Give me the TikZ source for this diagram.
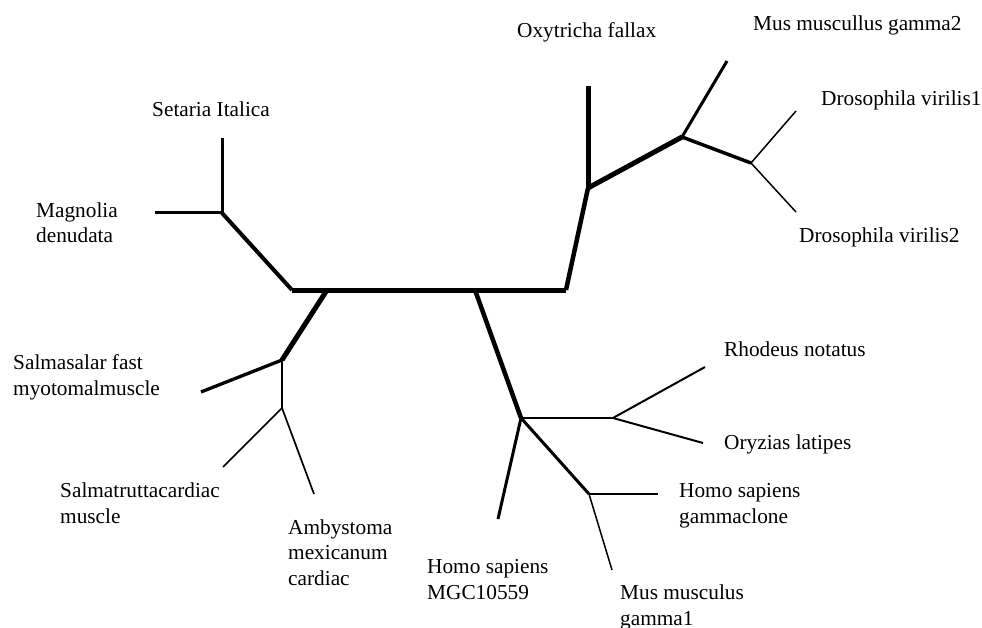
\documentclass[tikz,border=0pt]{standalone}
\usepackage{fontspec}
\setmainfont{Liberation Serif}
\begin{document}
\begin{tikzpicture}[x=1pt, y=-1pt,
  trunk/.style={line width=5pt},
  thickbr/.style={line width=4pt},
  midbr/.style={line width=3pt},
  thinbr/.style={line width=2pt},
  twig/.style={line width=1.5pt},
  leaf/.style={anchor=base west, inner sep=0pt, align=left,
    font=\fontsize{21.3}{25.5}\selectfont}]
\useasboundingbox (0,0) rectangle (982,628);
\coordinate (Lend) at (292,290);
\coordinate (Rend) at (566,290);
\coordinate (Sfork) at (327,290);
\coordinate (Hfork) at (475,290);
\coordinate (MSjn) at (222,213);
\coordinate (Setip) at (222,138);
\coordinate (Matip) at (155,213);
\coordinate (OXjn) at (588,188);
\coordinate (OXtip) at (588,86);
\coordinate (MGjn) at (682,137);
\coordinate (MGtip) at (727,61);
\coordinate (DVjn) at (751,163);
\coordinate (DVtipA) at (796,111);
\coordinate (DVtipB) at (796,212);
\coordinate (SAjn) at (282,360);
\coordinate (SAtip) at (201,392);
\coordinate (STjn) at (282,408);
\coordinate (STtip) at (223,467);
\coordinate (AMtip) at (314,494);
\coordinate (HSjn) at (521,418);
\coordinate (HMtip) at (498,519);
\coordinate (ROjn) at (613,418);
\coordinate (RHtip) at (705,367);
\coordinate (ORtip) at (703,443);
\coordinate (HGjn) at (589,494);
\coordinate (HGtip) at (658,494);
\coordinate (MMtip) at (612,570);
\draw[trunk] (Lend) -- (Rend);
\draw[thickbr] (MSjn) -- (Lend);
\draw[midbr] (MSjn) -- (Setip);
\draw[midbr] (MSjn) -- (Matip);
\draw[thickbr, line width=4.5pt] (Rend) -- (OXjn);
\draw[trunk] (OXjn) -- (OXtip);
\draw[trunk] (OXjn) -- (MGjn);
\draw[midbr] (MGjn) -- (MGtip);
\draw[midbr, line width=3.5pt] (MGjn) -- (DVjn);
\draw[twig] (DVjn) -- (DVtipA);
\draw[twig] (DVjn) -- (DVtipB);
\draw[trunk] (Sfork) -- (SAjn);
\draw[midbr, line width=3.3pt] (SAjn) -- (SAtip);
\draw[midbr, line width=2.7pt] (SAjn) -- (STjn);
\draw[twig, line width=1.7pt] (STjn) -- (STtip);
\draw[twig, line width=1.7pt] (STjn) -- (AMtip);
\draw[thickbr, line width=4.5pt] (Hfork) -- (HSjn);
\draw[midbr] (HSjn) -- (HMtip);
\draw[midbr, line width=2.7pt] (HSjn) -- (ROjn);
\draw[thinbr] (ROjn) -- (RHtip);
\draw[thinbr] (ROjn) -- (ORtip);
\draw[midbr] (HSjn) -- (HGjn);
\draw[twig] (HGjn) -- (HGtip);
\draw[twig] (HGjn) -- (MMtip);
\node[leaf] (setaria) at (152,117) {Setaria Italica};
\node[leaf] (magnolia) at (36,243) {Magnolia\\denudata};
\node[leaf] (oxytricha) at (517,38) {Oxytricha fallax};
\node[leaf] (musgtwo) at (753,31) {Mus muscullus gamma2};
\node[leaf] (drosone) at (821,106) {Drosophila virilis1};
\node[leaf] (drostwo) at (799,243) {Drosophila virilis2};
\node[leaf] (salmasalar) at (13,395) {Salmasalar fast\\myotomalmuscle};
\node[leaf] (salmatrutta) at (60,523) {Salmatruttacardiac\\muscle};
\node[leaf] (ambystoma) at (288,585) {Ambystoma\\mexicanum\\cardiac};
\node[leaf] (rhodeus) at (724,356) {Rhodeus notatus};
\node[leaf] (oryzias) at (724,449) {Oryzias latipes};
\node[leaf] (homogc) at (679,523) {Homo sapiens\\gammaclone};
\node[leaf] (homomgc) at (427,599) {Homo sapiens\\MGC10559};
\node[leaf] (musgone) at (620,625) {Mus musculus\\gamma1};
\end{tikzpicture}
\end{document}
